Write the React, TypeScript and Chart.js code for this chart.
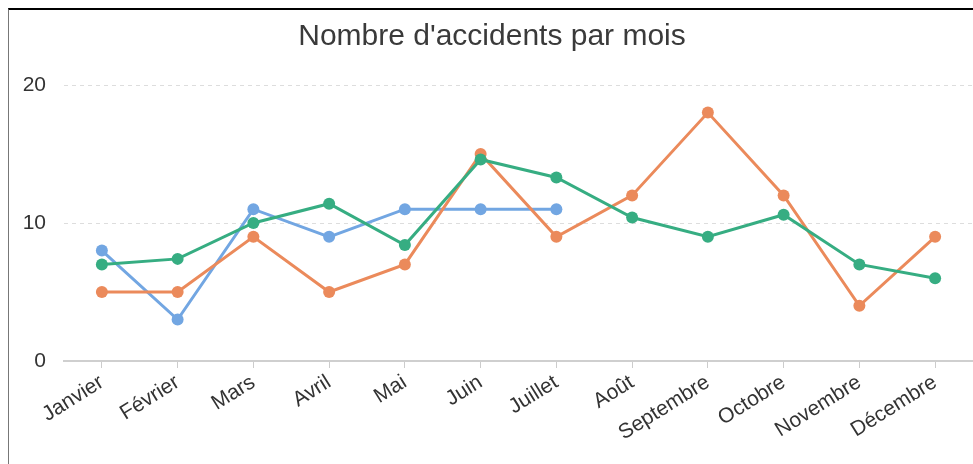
import React, { useEffect, useRef } from "react";
import { Chart, registerables } from "chart.js";

Chart.register(...registerables);

const months = [
  "Janvier", "Février", "Mars", "Avril", "Mai", "Juin",
  "Juillet", "Août", "Septembre", "Octobre", "Novembre", "Décembre",
];
const serieBleue = [8, 3, 11, 9, 11, 11, 11, null, null, null, null, null];
const serieOrange = [5, 5, 9, 5, 7, 15, 9, 12, 18, 12, 4, 9];
const serieVerte = [7, 7.4, 10, 11.4, 8.4, 14.6, 13.3, 10.4, 9, 10.6, 7, 6];
const yTicks = [0, 10, 20];

const FONT = "'Liberation Sans', Arial, Helvetica, sans-serif";

export default function App() {
  const ref = useRef<HTMLCanvasElement | null>(null);

  useEffect(() => {
    const prev = document.body.style.overflow;
    document.body.style.overflow = "hidden";
    const canvas = ref.current!;
    const mk = (label: string, data: (number | null)[], color: string, order: number) => ({
      label,
      data,
      borderColor: color,
      backgroundColor: color,
      pointBackgroundColor: color,
      pointBorderColor: color,
      borderWidth: 3,
      pointRadius: 6,
      pointBorderWidth: 0,
      tension: 0,
      spanGaps: false,
      order,
    });
    const chart = new Chart(canvas, {
      type: "line",
      data: {
        labels: months,
        datasets: [
          mk("A", serieBleue, "#72a6e2", 3),
          mk("B", serieOrange, "#eb8a5b", 2),
          mk("C", serieVerte, "#36ad82", 1),
        ],
      },
      options: {
        animation: false,
        responsive: false,
        layout: { padding: { left: 0, right: 4, top: 0, bottom: 0 } },
        plugins: {
          legend: { display: false },
          tooltip: { enabled: false },
          title: {
            display: true,
            text: "Nombre d'accidents par mois",
            color: "#3a3a3a",
            font: { family: FONT, size: 30, weight: "normal" },
            padding: { top: 9, bottom: 30 },
          },
        },
        scales: {
          x: {
            offset: true,
            grid: {
              display: true,
              drawOnChartArea: false,
              drawTicks: true,
              tickLength: 7,
              color: "#cccccc",
              offset: false,
            },
            border: { display: true, color: "#cfcfcf", width: 2 },
            ticks: {
              color: "#333333",
              font: { family: FONT, size: 21 },
              minRotation: 32,
              maxRotation: 32,
              autoSkip: false,
              padding: 2,
            },
            afterFit: (s: any) => {
              s.height = 103;
            },
          },
          y: {
            min: 0,
            max: 20,
            afterBuildTicks: (s: any) => {
              s.ticks = yTicks.map((v) => ({ value: v }));
            },
            grid: {
              drawTicks: false,
              color: (ctx: any) => (ctx.tick && ctx.tick.value === 0 ? "rgba(0,0,0,0)" : "#dddddd"),
              lineWidth: 1,
            },
            border: { display: false, dash: [4, 4] },
            ticks: {
              color: "#333333",
              font: { family: FONT, size: 21 },
              padding: 18,
            },
            afterFit: (s: any) => {
              s.width = 55;
            },
          },
        },
      },
    });
    return () => {
      chart.destroy();
      document.body.style.overflow = prev;
    };
  }, []);

  return (
    <div
      style={{
        position: "fixed",
        left: 8,
        top: 8,
        borderTop: "2px solid #000",
        borderLeft: "1px solid #777",
        background: "#fff",
        width: 970,
        height: 454,
      }}
    >
      <canvas ref={ref} width={970} height={454} style={{ display: "block" }} />
    </div>
  );
}
